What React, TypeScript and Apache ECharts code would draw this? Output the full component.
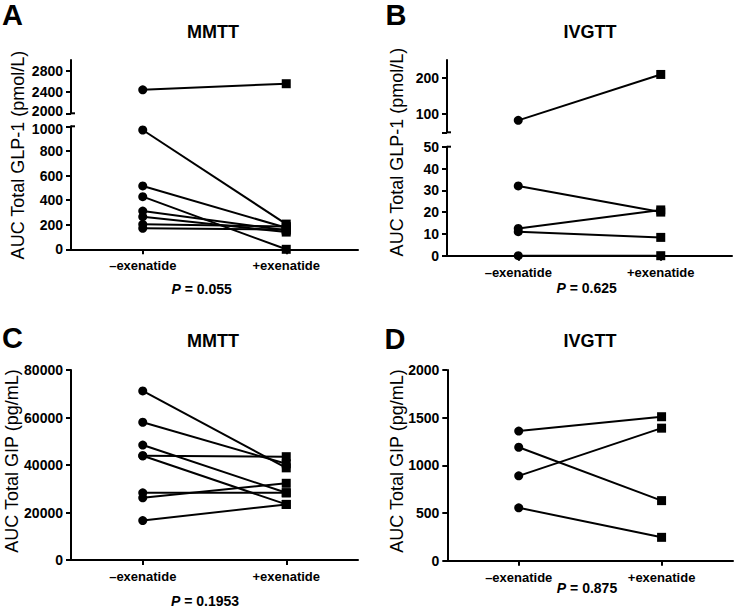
import React, { useEffect, useRef } from "react";
import * as echarts from "echarts";

const categories = ["\u2013exenatide", "+exenatide"];

// Panel A: AUC total GLP-1, MMTT (pmol/L)
const aMinus = [2440, 970, 515, 428, 311, 265, 203, 171];
const aPlus = [2555, 205, 175, 0, 155, 140, 185, 160];
// Panel B: AUC total GLP-1, IVGTT (pmol/L)
const bMinus = [83, 32, 12.5, 11, 0];
const bPlus = [210, 20, 21, 8.4, 0];
// Panel C: AUC total GIP, MMTT (pg/mL)
const cMinus = [71200, 58000, 48400, 43900, 43900, 28300, 26200, 16600];
const cPlus = [38800, 40500, 28300, 43500, 23400, 28300, 32300, 23400];
// Panel D: AUC total GIP, IVGTT (pg/mL)
const dMinus = [1360, 1190, 890, 555];
const dPlus = [1510, 630, 1390, 245];

const aUpperTicks = [2000, 2400, 2800];
const bUpperTicks = [100, 200];
const bUpperTickMarks = [50, 100, 200];

const FONT = "'Liberation Sans', Arial, Helvetica, sans-serif";

export default function App() {
  const ref = useRef<HTMLDivElement>(null);

  useEffect(() => {
    document.body.style.margin = "0";
    const chart = echarts.init(ref.current!, null, { renderer: "svg" });

    const grids = [
      { left: 71, top: 126.3, width: 287, height: 123 }, // A lower
      { left: 71, top: 60, width: 287, height: 53.3 }, // A upper
      { left: 447, top: 146.7, width: 285, height: 109 }, // B lower
      { left: 447, top: 60, width: 285, height: 72.3 }, // B upper
      { left: 71, top: 370, width: 287, height: 190 }, // C
      { left: 447.3, top: 370, width: 285.7, height: 190.7 }, // D
    ];

    const axisLine = { show: true, lineStyle: { color: "#000", width: 2 } };
    const axisTick = { show: true, length: 5, lineStyle: { color: "#000", width: 2 } };
    const richBase = { color: "#000", fontWeight: "bold", fontSize: 14, fontFamily: FONT, lineHeight: 12 };
    const yLabel = {
      color: "#000",
      fontWeight: "bold",
      fontSize: 14,
      lineHeight: 12,
      fontFamily: FONT,
      margin: 8,
      formatter: (v: number) => String(v),
    };

    const xAxis = grids.map((_, i) => {
      const hidden = i === 1 || i === 3;
      return {
        type: "category",
        gridIndex: i,
        data: categories,
        show: !hidden,
        boundaryGap: true,
        axisLine,
        axisTick: { ...axisTick, alignWithLabel: true },
        axisLabel: { color: "#000", fontWeight: "bold", fontSize: 13, fontFamily: FONT, margin: 10 },
        splitLine: { show: false },
      };
    });

    const yAxis: any[] = [
      {
        type: "value", gridIndex: 0, min: 0, max: 1000, interval: 200, axisLine, axisTick,
        axisLabel: {
          ...yLabel,
          formatter: (v: number) => (v === 1000 ? `{hi|${v}}` : String(v)),
          rich: { hi: { ...richBase, padding: [5, 0, 0, 0] } },
        },
        splitLine: { show: false },
      },
      {
        type: "value", gridIndex: 1, min: 2000, max: 3000, axisLine,
        axisTick: { ...axisTick, customValues: aUpperTicks },
        axisLabel: {
          ...yLabel,
          customValues: aUpperTicks,
          formatter: (v: number) => (v === 2000 ? `{lo|${v}}` : String(v)),
          rich: { lo: { ...richBase, padding: [0, 0, 5, 0] } },
        },
        splitLine: { show: false },
      },
      { type: "value", gridIndex: 2, min: 0, max: 50, interval: 10, axisLine, axisTick, axisLabel: yLabel, splitLine: { show: false } },
      {
        type: "value", gridIndex: 3, min: 50, max: 250, axisLine,
        axisTick: { ...axisTick, customValues: bUpperTickMarks },
        axisLabel: { ...yLabel, customValues: bUpperTicks },
        splitLine: { show: false },
      },
      { type: "value", gridIndex: 4, min: 0, max: 80000, interval: 20000, axisLine, axisTick, axisLabel: yLabel, splitLine: { show: false } },
      { type: "value", gridIndex: 5, min: 0, max: 2000, interval: 500, axisLine, axisTick, axisLabel: yLabel, splitLine: { show: false } },
    ];

    const series: any[] = [];
    const addPairs = (minus: number[], plus: number[], lowerIdx: number, upperIdx: number | null, breakAt: number) => {
      minus.forEach((m, i) => {
        const p = plus[i];
        const idx = upperIdx !== null && Math.min(m, p) >= breakAt ? upperIdx : lowerIdx;
        series.push({
          type: "line",
          xAxisIndex: idx,
          yAxisIndex: idx,
          data: [
            { value: m, symbol: "circle" },
            { value: p, symbol: "rect" },
          ],
          symbolSize: 9,
          clip: false,
          silent: true,
          lineStyle: { color: "#000", width: 2 },
          itemStyle: { color: "#000", borderWidth: 0 },
        });
      });
    };
    addPairs(aMinus, aPlus, 0, 1, 2000);
    addPairs(bMinus, bPlus, 2, 3, 50);
    addPairs(cMinus, cPlus, 4, null, 0);
    addPairs(dMinus, dPlus, 5, null, 0);

    const txt = (text: string, x: number, y: number, font: string, rotation = 0) => ({
      type: "text",
      x,
      y,
      rotation,
      silent: true,
      style: {
        text,
        font,
        fill: "#000",
        align: "center",
        verticalAlign: "middle",
        textAlign: "center",
        textVerticalAlign: "middle",
      },
    });

    const pText = (val: string, x: number, y: number) => ({
      type: "text",
      x,
      y,
      silent: true,
      style: {
        text: `{i|P}{b| = ${val}}`,
        fill: "#000",
        align: "center",
        verticalAlign: "middle",
        textAlign: "center",
        textVerticalAlign: "middle",
        rich: {
          i: { fontStyle: "italic", fontWeight: "bold", fontSize: 14, fontFamily: FONT, fill: "#000", color: "#000" },
          b: { fontWeight: "bold", fontSize: 14, fontFamily: FONT, fill: "#000", color: "#000" },
        },
      },
    });

    const brk = (x: number, y: number) => ({
      type: "line",
      silent: true,
      shape: { x1: x, y1: y, x2: x + 4, y2: y },
      style: { stroke: "#000", lineWidth: 2 },
    });

    const letterFont = `bold 29px ${FONT}`;
    const titleFont = `bold 18px ${FONT}`;
    const nameFont = `18px ${FONT}`;

    const graphic = [
      txt("A", 12.5, 15, letterFont),
      txt("B", 396, 15, letterFont),
      txt("C", 12.5, 338, letterFont),
      txt("D", 395, 339, letterFont),
      txt("MMTT", 213, 32, titleFont),
      txt("IVGTT", 590, 32, titleFont),
      txt("MMTT", 213, 341, titleFont),
      txt("IVGTT", 590, 341, titleFont),
      txt("AUC Total GLP-1 (pmol/L)", 17.5, 155, nameFont, Math.PI / 2),
      txt("AUC Total GLP-1 (pmol/L)", 397, 152, nameFont, Math.PI / 2),
      txt("AUC Total GIP (pg/mL)", 11.5, 461, nameFont, Math.PI / 2),
      txt("AUC Total GIP (pg/mL)", 397, 461, nameFont, Math.PI / 2),
      pText("0.055", 201.7, 289),
      pText("0.625", 586.7, 288),
      pText("0.1953", 205, 601),
      pText("0.875", 587, 588),
      brk(71, 113.3),
      brk(71, 126.3),
      brk(447, 132.3),
      brk(447, 146.7),
    ];

    chart.setOption({
      animation: false,
      backgroundColor: "#fff",
      grid: grids,
      xAxis,
      yAxis,
      series,
      graphic,
    });

    return () => chart.dispose();
  }, []);

  return <div ref={ref} style={{ width: 741, height: 610 }} />;
}
